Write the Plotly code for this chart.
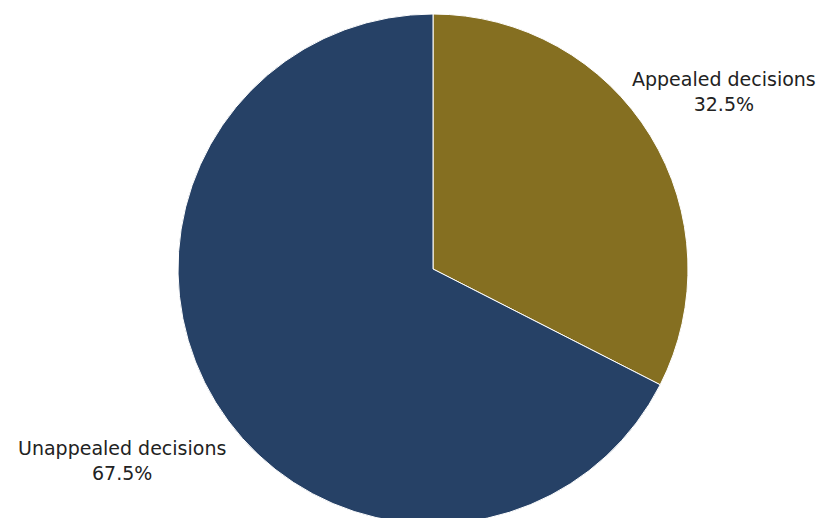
import math
import plotly.graph_objects as go

labels = ["Appealed decisions", "Unappealed decisions"]
values = [32.5, 67.5]
colors = ["#856F21", "#264166"]

W, H = 827, 524
M = dict(l=39, r=0, t=14, b=0)
plot_w = W - M["l"] - M["r"]
plot_h = H - M["t"] - M["b"]

fig = go.Figure(go.Pie(
    labels=labels,
    values=values,
    sort=False,
    direction="clockwise",
    rotation=0,
    automargin=False,
    domain=dict(x=[0, 1], y=[0, 1]),
    marker=dict(colors=colors, line=dict(color="white", width=1)),
    textinfo="none",
    hoverinfo="label+percent",
    showlegend=False,
))

# Labels placed along each slice's mid-angle, outside the pie
radius_px = min(plot_w, plot_h) / 2
label_dist_px = radius_px * 1.385
total = sum(values)
cum = 0.0
for lab, v in zip(labels, values):
    mid = (cum + v / 2) / total * 2 * math.pi
    cum += v
    dx = label_dist_px * math.sin(mid)
    dy = label_dist_px * math.cos(mid)
    fig.add_annotation(
        x=0.5 + dx / plot_w,
        y=0.5 + dy / plot_h,
        xref="paper", yref="paper",
        xanchor="center", yanchor="middle",
        xshift=-10, yshift=-7,
        text=f"{lab}<br>{v / total * 100:.1f}%",
        showarrow=False,
        align="center",
        font=dict(family="DejaVu Sans", size=19, color="#222222"),
    )

fig.update_layout(
    width=W, height=H,
    margin=M,
    paper_bgcolor="white",
    plot_bgcolor="white",
)

fig.write_html(
    "out.html",
    post_script="document.body.style.margin='0';document.body.style.overflow='hidden';document.documentElement.style.overflow='hidden';",
)
